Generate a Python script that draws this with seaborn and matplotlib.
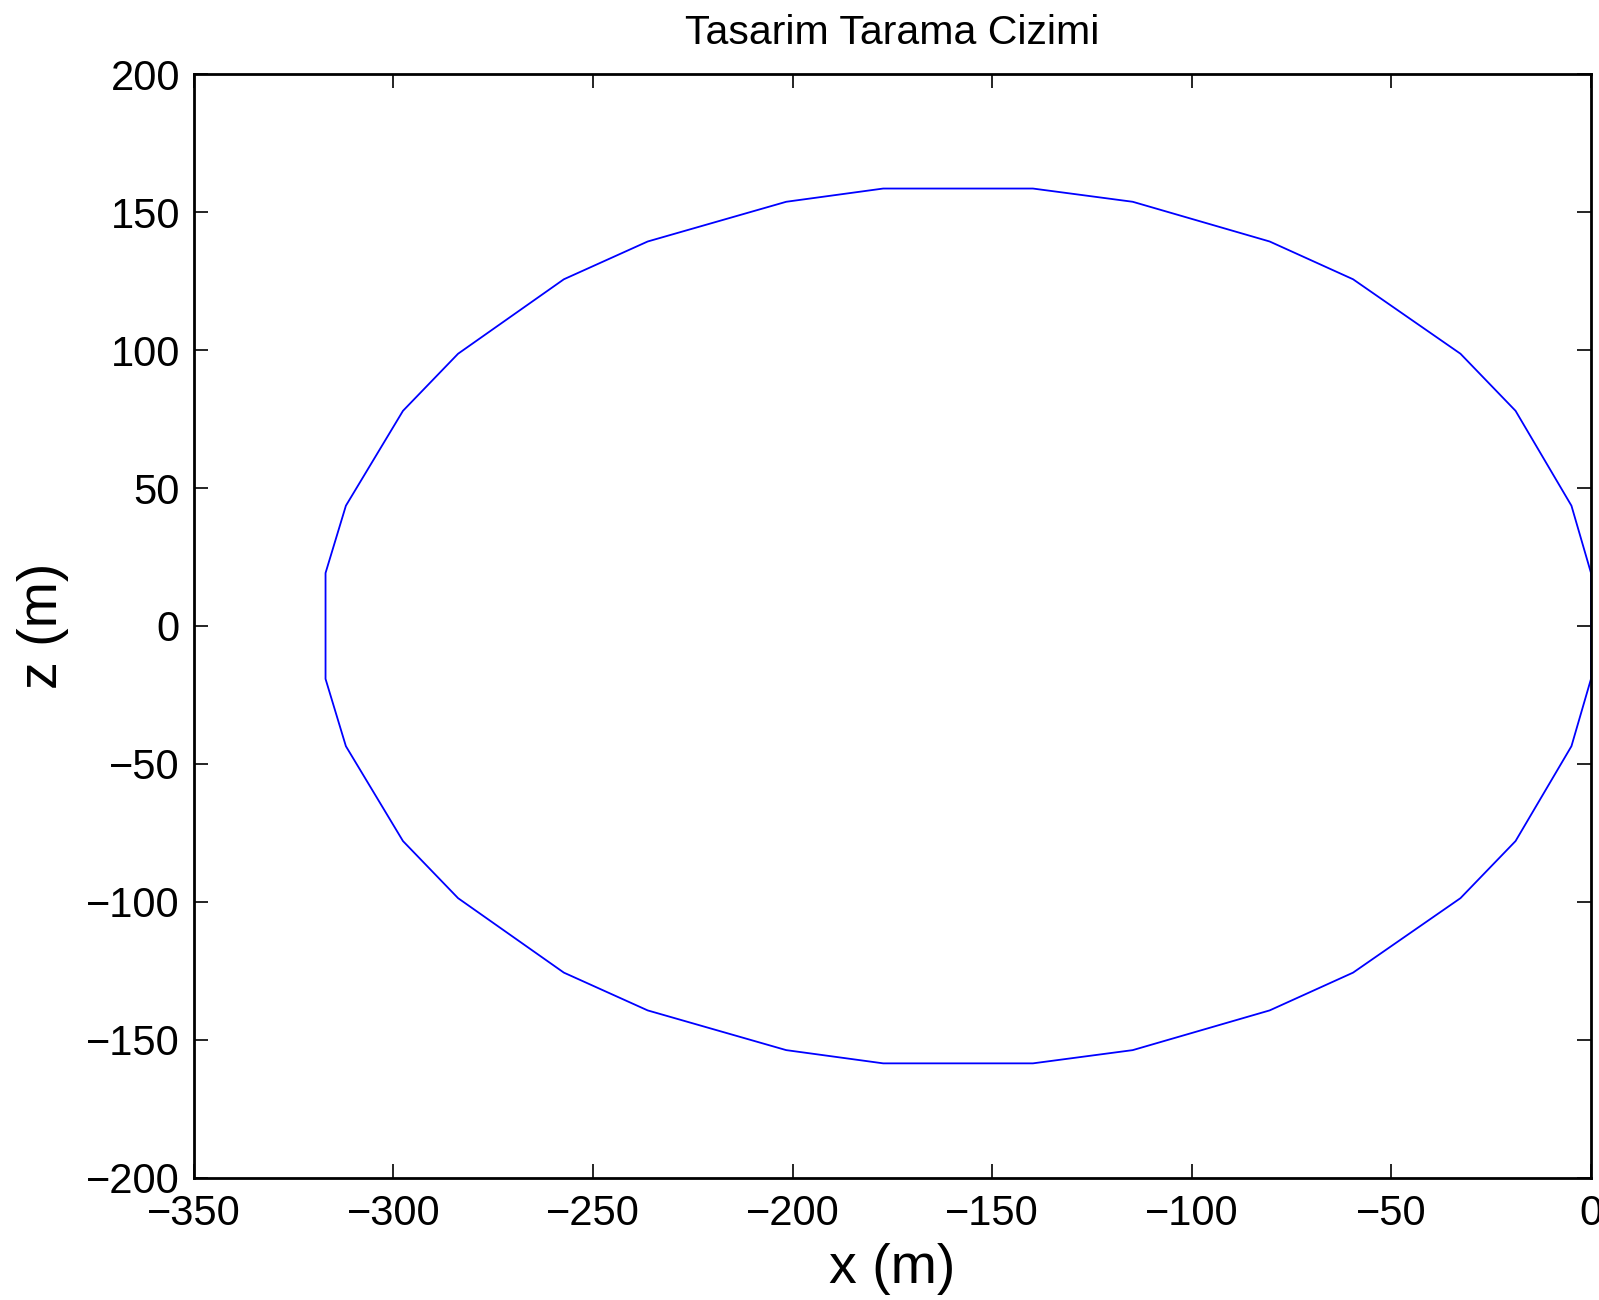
import matplotlib
matplotlib.use("Agg")
import matplotlib.pyplot as plt
import seaborn as sns
import pandas as pd

# Scan path vertices (x, z) in metres
x_m = [0.0, -4.9, -18.9, -32.7, -59.6, -80.5, -114.8, -139.8,
       -177.3, -201.6, -236.3, -257.3, -283.8, -297.6, -311.9, -317.0,
       -317.0, -311.9, -297.6, -283.8, -257.3, -236.3, -201.6, -177.3,
       -139.8, -114.8, -80.5, -59.6, -32.7, -18.9, -4.9, 0.0, 0.0]
z_m = [19.2, 43.6, 78.0, 98.7, 125.7, 139.4, 153.8, 158.6,
       158.6, 153.8, 139.4, 125.7, 98.7, 78.0, 43.6, 19.2,
       -19.2, -43.6, -78.0, -98.7, -125.7, -139.4, -153.8, -158.6,
       -158.6, -153.8, -139.4, -125.7, -98.7, -78.0, -43.6, -19.2, 19.2]

x_ticks = [-350, -300, -250, -200, -150, -100, -50, 0]
z_ticks = [-200, -150, -100, -50, 0, 50, 100, 150, 200]

title = "Tasarim Tarama Cizimi"
xlabel = "x (m)"
ylabel = "z (m)"

sns.set_style("ticks")
plt.rcParams['font.family'] = ['Liberation Sans', 'DejaVu Sans']
plt.rcParams['text.color'] = 'black'
plt.rcParams['axes.labelcolor'] = 'black'
plt.rcParams['xtick.color'] = 'black'
plt.rcParams['ytick.color'] = 'black'

df = pd.DataFrame({"x": x_m, "z": z_m, "order": range(len(x_m))})

fig = plt.figure(figsize=(15.99, 13), dpi=100)
ax = fig.add_axes([0.1212, 0.0942, 0.995 - 0.1212, 0.9428 - 0.0942])

sns.lineplot(data=df, x="x", y="z", sort=False, estimator=None,
             color=(0, 0, 1), linewidth=1.3, ax=ax)

ax.set_xlim(-350, 0)
ax.set_ylim(-200, 200)
ax.set_xticks(x_ticks)
ax.set_yticks(z_ticks)

for s in ax.spines.values():
    s.set_visible(True)
    s.set_linewidth(2.0)
    s.set_color("black")

ax.tick_params(axis="both", which="both", direction="in", length=10, width=1.2,
               top=True, right=True, labelsize=30, colors="black")
ax.tick_params(axis="x", pad=12)
ax.tick_params(axis="y", pad=10)

ax.set_xlabel(xlabel, fontsize=40, labelpad=6, color="black")
ax.set_ylabel(ylabel, fontsize=40, labelpad=12, color="black")
ax.set_title(title, fontsize=29.5, pad=22, color="black")

fig.savefig("out.png", dpi=100)
